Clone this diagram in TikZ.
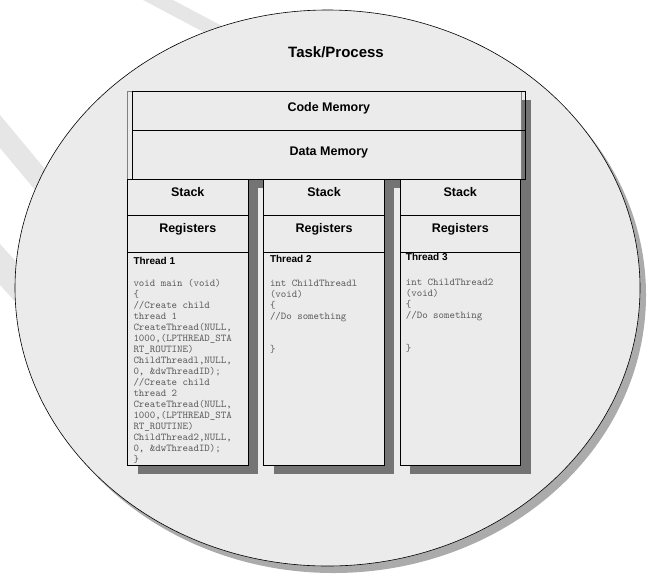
\documentclass[tikz,border=0pt]{standalone}
\usepackage{fontspec}
\setmainfont{Liberation Sans}
\usepackage{tikz}
\usetikzlibrary{shapes.geometric, shadows, positioning}
\definecolor{procfill}{HTML}{EBEBEB}
\definecolor{boxshadow}{HTML}{747474}
\definecolor{ringshadow}{HTML}{ABABAB}
\definecolor{codegray}{HTML}{5A5A5A}
\definecolor{markgray}{HTML}{E6E6E6}
\tikzset{
  membox/.style={
    rectangle,
    draw=black,
    line width=0.9pt,
    minimum width=393.7pt,
    inner sep=0pt,
    outer sep=0pt,
    font=\fontsize{12.5}{14}\selectfont\bfseries,
    text height=9pt,
    text depth=8pt
  },
  cellbox/.style={
    rectangle,
    draw=black,
    line width=0.9pt,
    fill=procfill,
    minimum width=120.5pt,
    inner sep=0pt,
    outer sep=0pt,
    font=\fontsize{12.5}{14}\selectfont\bfseries,
    text height=9pt,
    text depth=11.3pt,
    drop shadow={shadow xshift=10pt, shadow yshift=-9pt, fill=boxshadow, opacity=1}
  },
  codetext/.style={
    anchor=north west,
    inner sep=0pt,
    align=left,
    text=codegray,
    font=\fontsize{10.4}{11}\selectfont\ttfamily
  }
}
\newcommand{\threadhead}[1]{{\fontsize{10}{12}\selectfont\rmfamily\bfseries\color{black}#1}}

\begin{document}
\begin{tikzpicture}[x=1pt, y=-1pt]
  \useasboundingbox (0,0) rectangle (647,576);

  % faint marks behind the circle
  \fill[markgray] (143,0) -- (173,0) -- (273,53) -- (243,53) -- cycle;
  \fill[markgray] (0,115) -- (80,211) -- (80,244) -- (0,148) -- cycle;
  \fill[markgray] (0,244) -- (50,299) -- (50,340) -- (0,285) -- cycle;

  \node[ellipse, draw=black, line width=0.6pt, fill=procfill, minimum width=625pt, minimum height=556pt, inner sep=0pt,
        drop shadow={shadow xshift=6pt, shadow yshift=-7pt, fill=ringshadow, opacity=1}] (task) at (327.5,288) {};
  \node[font=\fontsize{15}{18}\selectfont\bfseries] (title) at (336,52.5) {Task/Process};

  % shared memory
  \node[rectangle, draw=gray, line width=0.6pt, fill=procfill, minimum width=394pt, minimum height=88pt, inner sep=0pt, outer sep=0pt, anchor=north west,
        drop shadow={shadow xshift=10pt, shadow yshift=-9pt, fill=boxshadow, opacity=1}] (frame) at (127,91) {};
  \node[membox, minimum height=39.5pt, anchor=north west] (code) at (132,91) {Code Memory};
  \node[membox, minimum height=48.5pt, anchor=north] (data) at (code.south) {Data Memory};

  % thread 1
  \node[cellbox, minimum height=36.7pt, anchor=north west] (stack1) at (127.5,179) {Stack};
  \node[cellbox, minimum height=36.6pt, anchor=north] (reg1) at (stack1.south) {Registers};
  \node[cellbox, minimum height=212.7pt, anchor=north] (thread1) at (reg1.south) {};
  \node[codetext] (code1) at ([xshift=5.8pt, yshift=-4.9pt]thread1.north west) {\threadhead{Thread 1}\\[10.4pt]
    void main (void)\\
    \{\\
    //Create child\\
    thread 1\\
    CreateThread(NULL,\\
    1000,(LPTHREAD\_STA\\
    RT\_ROUTINE)\\
    ChildThreadl,NULL,\\
    0, \&dwThreadID);\\
    //Create child\\
    thread 2\\
    CreateThread(NULL,\\
    1000,(LPTHREAD\_STA\\
    RT\_ROUTINE)\\
    ChildThread2,NULL,\\
    0, \&dwThreadID);\\
    \}};

  % thread 2
  \node[cellbox, minimum height=36.7pt, anchor=north west] (stack2) at (263.8,179) {Stack};
  \node[cellbox, minimum height=36.6pt, anchor=north] (reg2) at (stack2.south) {Registers};
  \node[cellbox, minimum height=212.7pt, anchor=north] (thread2) at (reg2.south) {};
  \node[codetext] (code2) at ([xshift=6pt, yshift=-2.9pt]thread2.north west) {\threadhead{Thread 2}\\[13pt]
    int ChildThreadl\\
    (void)\\
    \{\\
    //Do something\\[22pt]
    \}};

  % thread 3
  \node[cellbox, minimum height=36.7pt, anchor=north west] (stack3) at (400,179) {Stack};
  \node[cellbox, minimum height=36.6pt, anchor=north] (reg3) at (stack3.south) {Registers};
  \node[cellbox, minimum height=212.7pt, anchor=north] (thread3) at (reg3.south) {};
  \node[codetext] (code3) at ([xshift=5.7pt, yshift=-1.2pt]thread3.north west) {\threadhead{Thread 3}\\[13.7pt]
    int ChildThread2\\
    (void)\\
    \{\\
    //Do something\\[22pt]
    \}};
\end{tikzpicture}
\end{document}
